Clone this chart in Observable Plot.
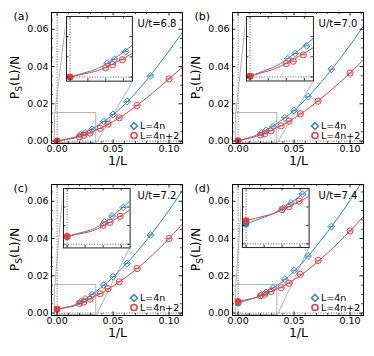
<!DOCTYPE html>
<html><head><meta charset="utf-8">
<script src="https://cdn.jsdelivr.net/npm/d3@7"></script>
<script src="https://cdn.jsdelivr.net/npm/@observablehq/plot@0.6"></script>
<style>
body{margin:0;background:#fff;font-family:"DejaVu Sans",sans-serif}
#root{position:relative;width:374px;height:356px;overflow:hidden}
.panel{position:absolute;width:185px;height:172px}
.panel svg{position:absolute}
</style></head><body>
<div id="root"></div>
<script>
// ---------- data ----------
const panelLabels = ["(a)", "(b)", "(c)", "(d)"];
const uLabels = ["U/t=6.8", "U/t=7.0", "U/t=7.2", "U/t=7.4"];
const L4n = [48, 40, 32, 24, 20, 16, 12];
const L4n2 = [50, 42, 34, 26, 22, 18, 14, 10];

const blueVals = [
  [0.0034, 0.0044, 0.0063, 0.0105, 0.0143, 0.0212, 0.0350],
  [0.0045, 0.0058, 0.0077, 0.0125, 0.0164, 0.0238, 0.0386],
  [0.0060, 0.0076, 0.0099, 0.0150, 0.0195, 0.0267, 0.0419],
  [0.0097, 0.0111, 0.0135, 0.0181, 0.0230, 0.0306, 0.0464]
];
const redVals = [
  [0.0023, 0.0031, 0.0043, 0.0068, 0.0091, 0.0125, 0.0191, 0.0334],
  [0.0033, 0.0039, 0.0055, 0.0082, 0.0107, 0.0146, 0.0214, 0.0365],
  [0.0051, 0.0059, 0.0075, 0.0104, 0.0131, 0.0168, 0.0239, 0.0400],
  [0.0093, 0.0101, 0.0116, 0.0136, 0.0160, 0.0208, 0.0283, 0.0441]
];
const blueExtrap = [0.0000, 0.0002, 0.0020, 0.0054];
const redExtrap  = [0.0000, 0.0002, 0.0021, 0.0063];

const curveX = [0, 0.01, 0.02, 0.04, 0.06, 0.08, 0.10, 0.115];
const blueCurves = [
  [0.0000, 0.0013, 0.0032, 0.0098, 0.0195, 0.0328, 0.0484, 0.0610],
  [0.0002, 0.0019, 0.0043, 0.0117, 0.0222, 0.0358, 0.0515, 0.0645],
  [0.0021, 0.0034, 0.0057, 0.0140, 0.0253, 0.0392, 0.0552, 0.0687],
  [0.0054, 0.0072, 0.0096, 0.0171, 0.0288, 0.0437, 0.0605, 0.0750]
];
const redCurves = [
  [0.0000, 0.0010, 0.0024, 0.0073, 0.0142, 0.0232, 0.0334, 0.0412],
  [0.0002, 0.0015, 0.0034, 0.0088, 0.0163, 0.0258, 0.0365, 0.0455],
  [0.0021, 0.0031, 0.0049, 0.0109, 0.0186, 0.0283, 0.0400, 0.0500],
  [0.0063, 0.0075, 0.0092, 0.0144, 0.0221, 0.0323, 0.0441, 0.0540]
];

// inset placement in main-axes data coordinates: [x1, x2, y1, y2]
const insetBoxes = [
  [0.0084, 0.0673, 0.0319, 0.0666],
  [0.0071, 0.0669, 0.0322, 0.0668],
  [0.0054, 0.0649, 0.0352, 0.0671],
  [0.0038, 0.0633, 0.0354, 0.0671]
];

const xDomain = [-0.005, 0.112];
const yDomain = [-0.0013, 0.069];
const xMajor = [0, 0.05, 0.10];
const xMinor = [0.01, 0.02, 0.03, 0.04, 0.06, 0.07, 0.08, 0.09, 0.11];
const yMajor = [0, 0.02, 0.04, 0.06];
const yMinor = [0.005, 0.01, 0.015, 0.025, 0.03, 0.035, 0.045, 0.05, 0.055, 0.065];
const insetXDomain = [-0.002, 0.035];
const insetYDomain = [-0.001, 0.015];
const insetXTicks = [0, 0.01, 0.02, 0.03];
const insetYTicks = [0, 0.005, 0.01];
const legendLabels = ["L=4n", "L=4n+2"];

// ---------- style ----------
const BLUE = "#2e84c6";
const RED = "#e33d3f";
const GRAY = "#aaaaaa";
const W = 185, H = 172, mL = 51, mR = 3, mT = 12, mB = 29;
const FW = W - mL - mR, FH = H - mT - mB;
const origins = [[0, 0], [181, 0], [0, 172], [181, 172]];

const hbar = {draw(ctx, size) { const r = Math.sqrt(size / Math.PI); ctx.moveTo(-r, 0); ctx.lineTo(r, 0); }};

function ticks(xt, yt, len, fw, fh, sw) {
  const o = {stroke: "#000", strokeWidth: sw};
  return [
    Plot.tickX(xt, {x: d => d, insetTop: fh - len, ...o}),
    Plot.tickX(xt, {x: d => d, insetBottom: fh - len, ...o}),
    Plot.tickY(yt, {y: d => d, insetRight: fw - len, ...o}),
    Plot.tickY(yt, {y: d => d, insetLeft: fw - len, ...o})
  ];
}

function dataMarks(i) {
  const blue = L4n.map((L, j) => ({x: 1 / L, y: blueVals[i][j]}));
  const red = L4n2.map((L, j) => ({x: 1 / L, y: redVals[i][j]}));
  const bc = curveX.map((x, j) => ({x, y: blueCurves[i][j]}));
  const rc = curveX.map((x, j) => ({x, y: redCurves[i][j]}));
  return [
    Plot.line(bc, {x: "x", y: "y", curve: "natural", stroke: BLUE, strokeWidth: 1, clip: true}),
    Plot.line(rc, {x: "x", y: "y", curve: "natural", stroke: RED, strokeWidth: 1, clip: true}),
    Plot.dot(blue, {x: "x", y: "y", symbol: "diamond2", r: 3.1, stroke: BLUE, fill: "none", strokeWidth: 1, clip: true}),
    Plot.dot(blue, {x: "x", y: "y", symbol: hbar, r: 2.4, stroke: BLUE, fill: "none", strokeWidth: 1, clip: true}),
    Plot.dot(red, {x: "x", y: "y", symbol: "circle", r: 3.1, stroke: RED, fill: "none", strokeWidth: 1, clip: true}),
    Plot.dot(red, {x: "x", y: "y", symbol: hbar, r: 2.4, stroke: RED, fill: "none", strokeWidth: 1, clip: true}),
    Plot.dot([{x: 0, y: blueExtrap[i]}], {x: "x", y: "y", r: 3.3, fill: BLUE, stroke: "none", clip: true}),
    Plot.dot([{x: 0, y: redExtrap[i]}], {x: "x", y: "y", r: 3.3, fill: RED, stroke: "none", clip: true})
  ];
}

const root = document.getElementById("root");
const dotted = {stroke: "#333", strokeDasharray: "1,1.6", strokeWidth: 0.8};

for (let i = 0; i < 4; i++) {
  const panel = document.createElement("div");
  panel.className = "panel";
  panel.style.left = origins[i][0] + "px";
  panel.style.top = origins[i][1] + "px";
  root.appendChild(panel);

  const [bx1, bx2, by1, by2] = insetBoxes[i];
  const zoomBox = {x1: insetXDomain[0], x2: insetXDomain[1], y1: insetYDomain[0], y2: insetYDomain[1]};
  const connectors = [
    {x1: zoomBox.x1, y1: zoomBox.y2, x2: bx1, y2: by2},
    {x1: zoomBox.x2, y1: zoomBox.y1, x2: bx2, y2: by1}
  ];

  const main = Plot.plot({
    width: W, height: H,
    marginLeft: mL, marginRight: mR, marginTop: mT, marginBottom: mB,
    x: {domain: xDomain},
    y: {domain: yDomain},
    style: {fontFamily: '"DejaVu Sans", sans-serif', fontSize: "9.5px", background: "none", overflow: "visible", color: "#000"},
    marks: [
      Plot.ruleX([0], dotted),
      Plot.ruleY([0], dotted),
      Plot.rect([zoomBox], {x1: "x1", x2: "x2", y1: "y1", y2: "y2", fill: "none", stroke: GRAY, strokeWidth: 0.9}),
      Plot.link(connectors, {x1: "x1", y1: "y1", x2: "x2", y2: "y2", stroke: GRAY, strokeWidth: 0.9}),
      ...dataMarks(i),
      // legend
      Plot.dot([0], {frameAnchor: "bottom-right", dx: -48.5, dy: -17.5, symbol: "diamond2", r: 3.1, stroke: BLUE, fill: "none"}),
      Plot.dot([0], {frameAnchor: "bottom-right", dx: -48.5, dy: -8, symbol: "circle", r: 3.1, stroke: RED, fill: "none"}),
      Plot.text([legendLabels[0]], {text: d => d, frameAnchor: "bottom-right", dx: -42.5, dy: -17.5, textAnchor: "start", lineAnchor: "middle", fontSize: 9.5}),
      Plot.text([legendLabels[1]], {text: d => d, frameAnchor: "bottom-right", dx: -42.5, dy: -8, textAnchor: "start", lineAnchor: "middle", fontSize: 9.5}),
      Plot.text([uLabels[i]], {text: d => d, frameAnchor: "top-right", dx: -6, dy: 11.5, textAnchor: "end", lineAnchor: "middle", fontSize: 10}),
      Plot.text([panelLabels[i]], {text: d => d, frameAnchor: "top-left", dx: -38, dy: 4, textAnchor: "start", lineAnchor: "middle", fontSize: 11}),
      Plot.frame({stroke: "#000", strokeWidth: 1}),
      ...ticks(xMajor, yMajor, 3.5, FW, FH, 0.9),
      ...ticks(xMinor, yMinor, 2, FW, FH, 0.7),
      Plot.axisX(xMajor, {tickSize: 0, tickPadding: 2, tickFormat: d3.format(".2f"), label: null}),
      Plot.axisY(yMajor, {tickSize: 0, tickPadding: 3, tickFormat: d3.format(".2f"), label: null})
    ]
  });
  panel.appendChild(main);
  main.style.left = "0px"; main.style.top = "0px";

  const svg = d3.select(main);
  const ylab = svg.append("text")
    .attr("transform", `translate(19,${mT + FH / 2}) rotate(-90)`)
    .attr("text-anchor", "middle")
    .attr("font-size", "12.5px")
    .attr("fill", "#000");
  ylab.append("tspan").text("P");
  ylab.append("tspan").attr("font-size", "9px").attr("dy", 2.5).text("S");
  ylab.append("tspan").attr("dy", -2.5).text("(L)/N");
  svg.append("text")
    .attr("x", mL + FW / 2 + 1).attr("y", 165)
    .attr("text-anchor", "middle")
    .attr("font-size", "12.5px")
    .attr("fill", "#000")
    .text("1/L");

  // inset
  const xs = main.scale("x"), ys = main.scale("y");
  const left = xs.apply(bx1), right = xs.apply(bx2), top = ys.apply(by2), bottom = ys.apply(by1);
  const iw = right - left, ih = bottom - top;
  const inset = Plot.plot({
    width: iw + 2, height: ih + 2, margin: 1,
    x: {domain: insetXDomain, axis: null},
    y: {domain: insetYDomain, axis: null},
    style: {background: "white", overflow: "visible"},
    marks: [
      Plot.ruleX([0], dotted),
      Plot.ruleY([0], dotted),
      ...dataMarks(i),
      Plot.frame({stroke: "#222", strokeWidth: 1}),
      ...ticks(insetXTicks, insetYTicks, 2.5, iw, ih, 0.8)
    ]
  });
  inset.style.left = (left - 1) + "px";
  inset.style.top = (top - 1) + "px";
  panel.appendChild(inset);
}
</script>
</body></html>
